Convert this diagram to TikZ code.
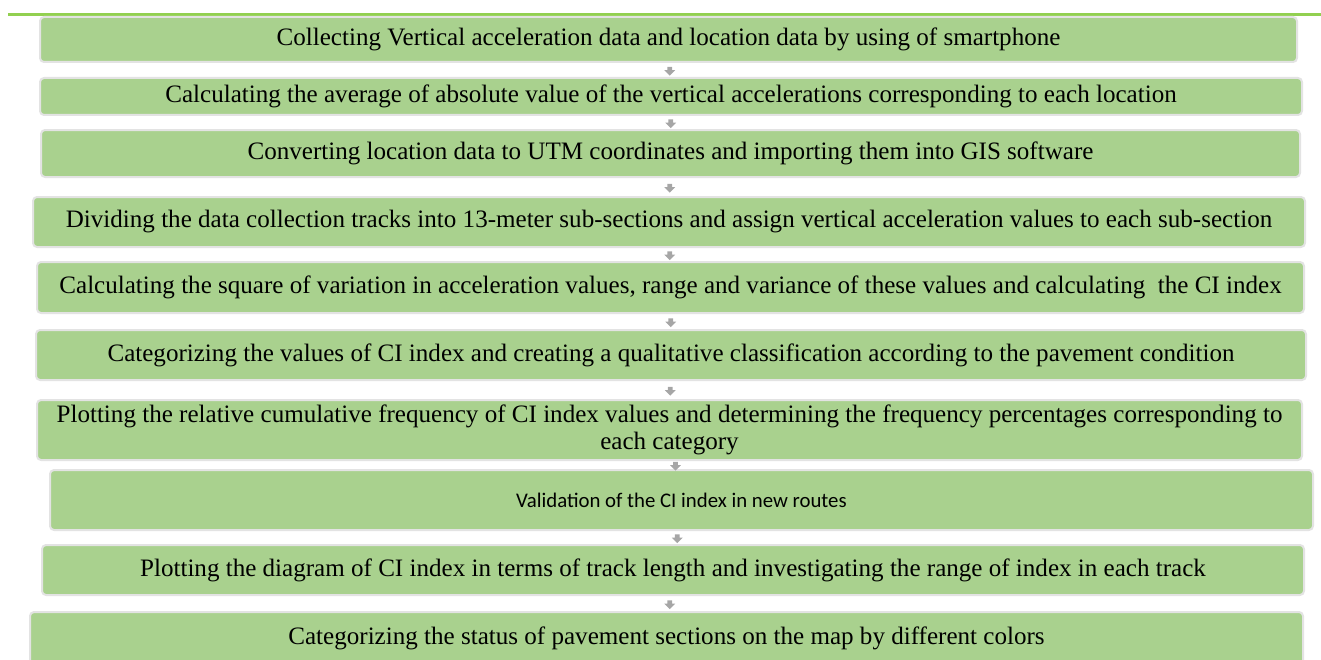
\documentclass[tikz,border=0pt]{standalone}
\usepackage{fontspec}
\setmainfont{Liberation Serif}
\newfontfamily\calfont{Carlito}
\usetikzlibrary{shapes.arrows}
\definecolor{boxgreen}{HTML}{A9D18E}
\definecolor{boxedge}{HTML}{E3E3E3}
\definecolor{topgreen}{HTML}{92D050}
\definecolor{arrgray}{HTML}{A6A6A6}
\tikzset{
  stepbox/.style={draw=boxedge, fill=boxgreen, line width=1.5pt, rounded corners=3pt,
    inner sep=0pt, outer sep=0pt, align=center, font=\fontsize{18.8}{20.5}\selectfont},
  downarrow/.style={single arrow, fill=arrgray, draw=none, shape border rotate=270,
    minimum height=6.5pt, minimum width=8pt, single arrow head extend=2pt, inner sep=1.4pt,
    font=\fontsize{1}{1}\selectfont}
}
\newcommand{\bx}[6]{%
  \node[stepbox, minimum width={(#4-#2)*0.75pt}, minimum height={(#5-#3)*0.75pt}]
    (#1) at ({(#2+#4)/2},{(#3+#5)/2}) {#6};}
\begin{document}
\begin{tikzpicture}[x=0.75pt,y=-0.75pt]
\useasboundingbox (0,0) rectangle (1321,660);
\draw[topgreen, line width=2.8pt] (8,14.5) coordinate (gl) -- (1321,14.5) coordinate (gr);
\bx{b1}{40}{17}{1297}{62}{Collecting Vertical acceleration data and location data by using of smartphone}
\bx{b2}{40}{78}{1302}{115}{Calculating the average of absolute value of the vertical accelerations corresponding to each location}
\bx{b3}{41}{130}{1300}{177}{Converting location data to UTM coordinates and importing them into GIS software}
\bx{b4}{33}{197}{1305}{247}{Dividing the data collection tracks into 13-meter sub-sections and assign vertical acceleration values to each sub-section}
\bx{b5}{37}{262}{1304}{313}{Calculating the square of variation in acceleration values, range and variance of these values and calculating\ \ the CI index}
\bx{b6}{36}{330}{1306}{380}{Categorizing the values of CI index and creating a qualitative classification according to the pavement condition}
\bx{b7}{37}{400}{1302}{460}{Plotting the relative cumulative frequency of CI index values and determining the frequency percentages corresponding to\\ each category}
\bx{b8}{50}{470}{1313}{530}{\calfont\fontsize{15.6}{18}\selectfont Validation of the CI index in new routes}
\bx{b9}{42}{545}{1304}{595}{Plotting the diagram of CI index in terms of track length and investigating the range of index in each track}
\bx{b10}{30}{612}{1303}{664}{Categorizing the status of pavement sections on the map by different colors}
\foreach \a/\b in {b1/b2,b2/b3,b3/b4,b4/b5,b5/b6,b6/b7,b7/b8,b8/b9,b9/b10}{
  \path (\a.south) -- node[downarrow, pos=0.5] {} (\b.north);
}
\end{tikzpicture}
\end{document}
